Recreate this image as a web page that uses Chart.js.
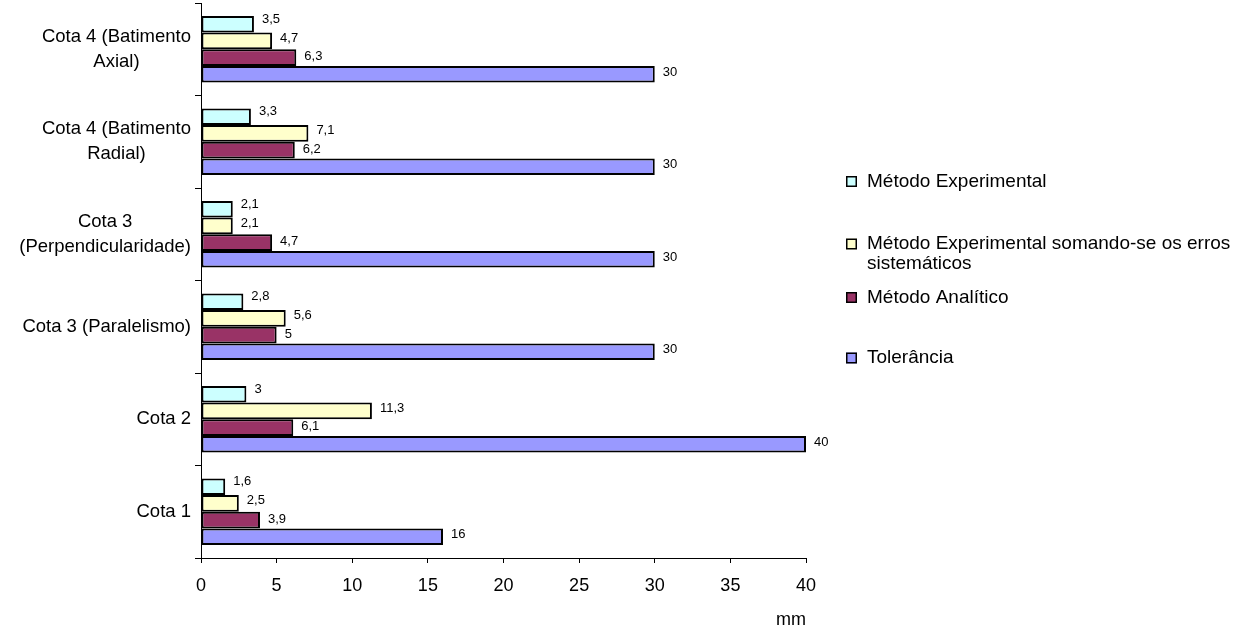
<!DOCTYPE html>
<html>
<head>
<meta charset="utf-8">
<script src="https://cdn.jsdelivr.net/npm/chart.js@4.4.1/dist/chart.umd.min.js"></script>
<style>
  html, body { margin: 0; padding: 0; background: #ffffff; }
  canvas { display: block; }
</style>
</head>
<body>
<canvas id="chart" width="1238" height="631" style="width:1238px;height:631px"></canvas>
<script>
// Categories (top to bottom), each split into its display lines
const categories = [
  ['Cota 4 (Batimento', 'Axial)'],
  ['Cota 4 (Batimento', 'Radial)'],
  ['Cota 3', '(Perpendicularidade)'],
  ['Cota 3 (Paralelismo)'],
  ['Cota 2'],
  ['Cota 1']
];

// Series names
const seriesNames = [
  'Método Experimental',
  'Método Experimental somando-se os erros sistemáticos',
  'Método Analítico',
  'Tolerância'
];

// Values in mm, one per category
const metodoExperimental = [3.5, 3.3, 2.1, 2.8, 3, 1.6];
const experimentalComErros = [4.7, 7.1, 2.1, 5.6, 11.3, 2.5];
const metodoAnalitico = [6.3, 6.2, 4.7, 5, 6.1, 3.9];
const tolerancia = [30, 30, 30, 30, 40, 16];

// Value axis tick labels
const xTickValues = [0, 5, 10, 15, 20, 25, 30, 35, 40];
const xAxisTitle = 'mm';

const FONT = "'Liberation Sans', Arial, Helvetica, sans-serif";
const seriesColors = ['#CCFFFF', '#FFFFCC', '#993366', '#9999FF'];
const seriesValues = [metodoExperimental, experimentalComErros, metodoAnalitico, tolerancia];

// Multi-line category labels, centred line by line, right edge near the axis
const categoryLabelPlugin = {
  id: 'categoryLabels',
  afterDraw(chart, args, opts) {
    const ctx = chart.ctx;
    const yScale = chart.scales.y;
    ctx.save();
    ctx.font = opts.size + 'px ' + FONT;
    ctx.fillStyle = '#000';
    ctx.textAlign = 'center';
    ctx.textBaseline = 'middle';
    chart.data.labels.forEach((lines, i) => {
      const cy = yScale.getPixelForValue(i);
      const blockW = Math.max(...lines.map(l => ctx.measureText(l).width));
      const cx = opts.right - blockW / 2;
      const y0 = cy - (lines.length - 1) * opts.lineGap / 2;
      lines.forEach((l, k) => ctx.fillText(l, cx, y0 + k * opts.lineGap));
    });
    ctx.restore();
  }
};

// Value labels at the end of each bar, decimal comma
const valueLabelPlugin = {
  id: 'valueLabels',
  afterDatasetsDraw(chart, args, opts) {
    const ctx = chart.ctx;
    ctx.save();
    ctx.font = opts.size + 'px ' + FONT;
    ctx.fillStyle = '#000';
    ctx.textAlign = 'left';
    ctx.textBaseline = 'middle';
    chart.data.datasets.forEach((ds, di) => {
      const meta = chart.getDatasetMeta(di);
      meta.data.forEach((bar, i) => {
        const text = String(ds.data[i]).replace('.', ',');
        ctx.fillText(text, bar.x + opts.gap, bar.y + opts.dy[di]);
      });
    });
    ctx.restore();
  }
};

// Legend to the right of the plot, with wrapped text
const sideLegendPlugin = {
  id: 'sideLegend',
  afterDraw(chart, args, opts) {
    const ctx = chart.ctx;
    ctx.save();
    ctx.font = opts.size + 'px ' + FONT;
    ctx.textBaseline = 'middle';
    ctx.textAlign = 'left';
    chart.data.datasets.forEach((ds, di) => {
      const y = opts.rows[di];
      const b = opts.box;
      ctx.fillStyle = ds.backgroundColor;
      ctx.fillRect(opts.boxX, y - b / 2, b, b);
      ctx.strokeStyle = '#000';
      ctx.lineWidth = 1.5;
      ctx.strokeRect(opts.boxX + 0.75, y - b / 2 + 0.75, b - 1.5, b - 1.5);
      // wrap words to the available width
      const words = ds.label.split(' ');
      const lines = [];
      let cur = '';
      words.forEach(w => {
        const t = cur ? cur + ' ' + w : w;
        if (ctx.measureText(t).width > opts.maxWidth && cur) { lines.push(cur); cur = w; }
        else cur = t;
      });
      lines.push(cur);
      ctx.fillStyle = '#000';
      lines.forEach((l, k) => ctx.fillText(l, opts.textX, y + k * opts.lineGap));
    });
    ctx.restore();
  }
};

const datasets = seriesNames.map((name, i) => ({
  label: name,
  data: seriesValues[i],
  backgroundColor: seriesColors[i],
  borderColor: '#000000',
  borderWidth: 2,
  borderSkipped: false,
  barPercentage: 1.0,
  categoryPercentage: 0.72
}));

new Chart(document.getElementById('chart'), {
  type: 'bar',
  data: { labels: categories, datasets },
  options: {
    indexAxis: 'y',
    responsive: false,
    animation: false,
    devicePixelRatio: 1,
    layout: { padding: { top: 3, right: 432, bottom: 0, left: 0 } },
    plugins: {
      legend: { display: false },
      tooltip: { enabled: false },
      categoryLabels: { size: 18.5, right: 191, lineGap: 25 },
      valueLabels: { size: 13, gap: 8, dy: [-5, -3, -1, -2] },
      sideLegend: {
        size: 19, box: 11, boxX: 846, textX: 867, maxWidth: 370, lineGap: 20,
        rows: [181.5, 244, 297.5, 358]
      }
    },
    scales: {
      x: {
        type: 'linear',
        min: 0,
        max: 40,
        afterBuildTicks(scale) { scale.ticks = xTickValues.map(v => ({ value: v })); },
        afterFit(scale) { scale.height = 73; },
        grid: { drawOnChartArea: false, color: '#000', tickLength: 5, tickWidth: 1 },
        border: { display: true, color: '#000', width: 1 },
        ticks: { color: '#000', font: { family: FONT, size: 18 }, padding: 12, maxRotation: 0 },
        title: {
          display: true, text: xAxisTitle, align: 'end', color: '#000',
          font: { family: FONT, size: 18 }, padding: { top: 0, bottom: 0 }
        }
      },
      y: {
        type: 'category',
        afterFit(scale) { scale.width = 201; },
        grid: { drawOnChartArea: false, offset: true, color: '#000', tickLength: 6, tickWidth: 1 },
        border: { display: true, color: '#000', width: 1 },
        ticks: { display: false }
      }
    }
  },
  plugins: [categoryLabelPlugin, valueLabelPlugin, sideLegendPlugin]
});
</script>
</body>
</html>
